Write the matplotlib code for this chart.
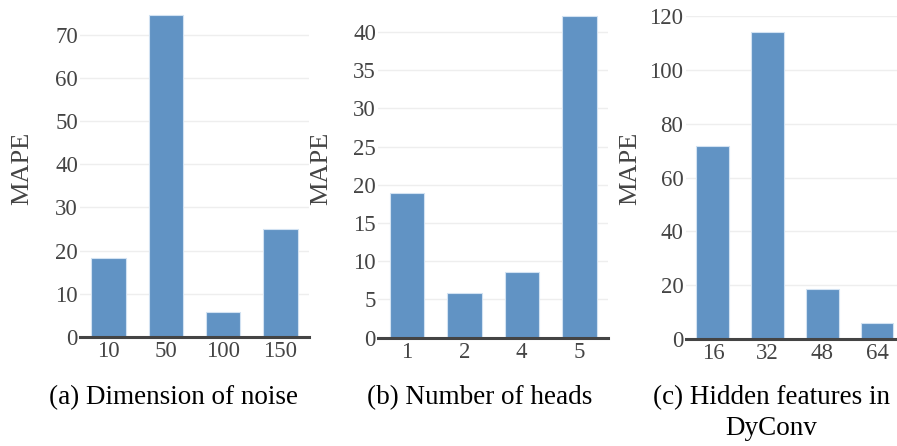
import matplotlib.pyplot as plt

# Hyper-parameter sensitivity results
noise_dims = ["10", "50", "100", "150"]
noise_mape = [18.4, 74.5, 5.9, 25.0]

num_heads = ["1", "2", "4", "5"]
heads_mape = [18.9, 5.8, 8.6, 42.1]

hidden_feats = ["16", "32", "48", "64"]
hidden_mape = [71.7, 114.1, 18.5, 5.7]

captions = ["(a) Dimension of noise", "(b) Number of heads",
            "(c) Hidden features in\nDyConv"]

BAR_COLOR = "#6193c4"
EDGE_COLOR = "#d2e2f2"
GRID_COLOR = "#eeeeee"
ZERO_COLOR = "#444444"
TEXT_COLOR = "#444444"
W, H = 897, 446

plt.rcParams["font.family"] = ["Liberation Serif", "DejaVu Serif"]


def px_axes(fig, left, right, top, bottom):
    return fig.add_axes([left / W, 1 - bottom / H, (right - left) / W,
                         (bottom - top) / H])


fig = plt.figure(figsize=(W / 100, H / 100), dpi=100)

panels = [
    # (labels, values, ticks, ylim top, axes px box, ylabel x, caption x)
    (noise_dims, noise_mape, range(0, 71, 10), 78.0, (80, 309, 0, 337), 22, 173),
    (num_heads, heads_mape, range(0, 41, 5), 44.2, (378, 608, 0, 337.7), 321, 480),
    (hidden_feats, hidden_mape, range(0, 121, 20), 120.0, (685.5, 904.4, 16.3, 338.8), 630, 771),
]

for (cats, vals, ticks, top, box, ylab_x, cap_x), cap in zip(panels, captions):
    ax = px_axes(fig, *box)
    x = range(len(cats))
    ax.bar(x, vals, width=0.6, color=BAR_COLOR, edgecolor=EDGE_COLOR,
           linewidth=0.8, zorder=2)
    ax.set_xlim(-0.5, len(cats) - 0.5)
    ax.set_ylim(0, top)
    ax.set_yticks(list(ticks))
    ax.set_xticks(list(x))
    ax.set_xticklabels(cats)
    ax.grid(axis="y", color=GRID_COLOR, linewidth=1, zorder=0)
    ax.axhline(0, color=ZERO_COLOR, linewidth=2.2, zorder=3, clip_on=False)
    for s in ax.spines.values():
        s.set_visible(False)
    ax.tick_params(length=0, labelsize=16.5, labelcolor=TEXT_COLOR)
    ax.tick_params(axis="y", pad=1.5)
    ax.tick_params(axis="x", pad=3)
    fig.text(ylab_x / W, 1 - 168 / H, "MAPE", rotation=90, ha="center",
             va="center", fontsize=19, color=TEXT_COLOR)
    fig.text(cap_x / W, 1 - 385 / H, cap, ha="center", va="top",
             fontsize=19.5, color="black", linespacing=1.3)

fig.savefig("out.png", dpi=100)
